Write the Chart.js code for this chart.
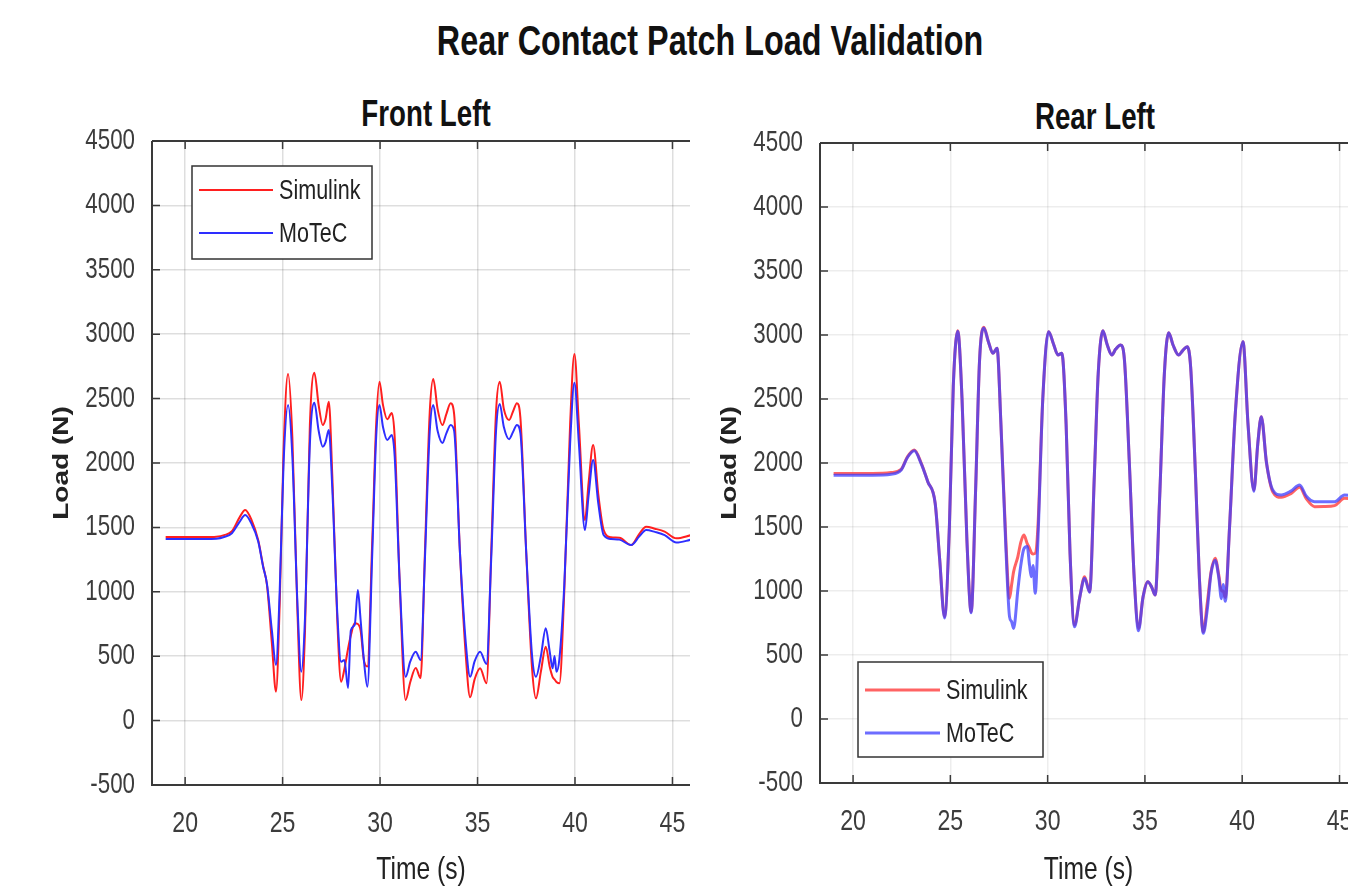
<!DOCTYPE html>
<html>
<head>
<meta charset="utf-8">
<script src="https://cdn.jsdelivr.net/npm/chart.js@4.4.1/dist/chart.umd.min.js"></script>
<style>
  html, body { margin:0; padding:0; width:1348px; height:890px; overflow:hidden; background:#fff; }
  body { position:relative; font-family:'Liberation Sans',Arial,sans-serif; }
  .t { position:absolute; transform:translate(-50%,-50%) scaleX(0.77); white-space:nowrap; font-weight:bold; color:#111; line-height:1; }
  #c1wrap { position:absolute; left:0; top:0; width:700px; height:890px; }
  #c2wrap { position:absolute; left:700px; top:0; width:700px; height:890px; }
</style>
</head>
<body>
<div class="t" style="left:710px; top:41px; font-size:42px;">Rear Contact Patch Load Validation</div>
<div class="t" style="left:426px; top:114px; font-size:36px;">Front Left</div>
<div class="t" style="left:1095px; top:117px; font-size:36px;">Rear Left</div>
<div id="c1wrap"><canvas id="c1" width="700" height="890"></canvas></div>
<div id="c2wrap"><canvas id="c2" width="700" height="890"></canvas></div>
<script>
// ---------------- data ----------------
const seriesNames = ['Simulink', 'MoTeC'];
const xTickValues = [20, 25, 30, 35, 40, 45];
const yTickValues = [-500, 0, 500, 1000, 1500, 2000, 2500, 3000, 3500, 4000, 4500];

const flTime = [19.0,20.0,21.0,21.6,22.0,22.4,22.8,23.08,23.4,23.75,24.0,24.2,24.45,24.66,24.85,25.05,25.28,25.5,25.75,25.96,26.15,26.4,26.63,26.85,27.06,27.2,27.37,27.55,27.8,28.0,28.17,28.36,28.5,28.7,28.86,29.0,29.17,29.35,29.6,29.8,29.97,30.15,30.37,30.6,30.75,31.0,31.31,31.55,31.83,32.08,32.3,32.55,32.73,32.95,33.2,33.4,33.62,33.8,34.1,34.4,34.62,34.85,35.13,35.46,35.7,35.95,36.14,36.35,36.62,36.82,37.02,37.2,37.5,37.8,38.0,38.25,38.5,38.7,38.85,38.95,39.05,39.2,39.45,39.75,39.97,40.2,40.51,40.7,40.93,41.2,41.47,41.85,42.28,42.88,43.3,43.65,44.1,44.6,45.2,45.96];
const flSimulink = [1425,1425,1425,1428,1440,1470,1580,1635,1560,1400,1200,1050,600,224,900,2100,2691,2200,900,160,700,2300,2700,2450,2295,2340,2476,1900,800,302,400,560,660,755,750,700,470,420,1400,2300,2631,2450,2339,2388,2200,1100,160,300,408,330,1300,2400,2652,2420,2295,2380,2464,2380,1300,500,181,320,406,290,1300,2400,2631,2420,2334,2400,2464,2350,1300,400,173,380,574,420,340,320,300,290,1000,2300,2846,2300,1557,1850,2140,1750,1480,1423,1420,1363,1450,1505,1490,1467,1415,1440];
const flMotec = [1410,1410,1410,1412,1425,1455,1545,1596,1530,1390,1195,1060,700,432,1000,2000,2450,2050,950,380,800,2150,2468,2250,2127,2160,2256,1800,850,457,470,253,700,744,1014,785,470,263,1300,2200,2450,2280,2179,2217,2050,1100,340,460,535,470,1250,2250,2450,2250,2155,2230,2295,2250,1300,600,340,460,535,440,1250,2250,2458,2280,2185,2240,2295,2230,1300,500,340,500,717,540,406,502,380,480,1050,2150,2624,2150,1480,1750,2023,1680,1441,1410,1405,1363,1430,1480,1465,1440,1382,1405];

const rlTime = [19.0,20.0,21.0,21.95,22.47,22.8,23.15,23.5,23.84,24.22,24.45,24.7,24.95,25.15,25.38,25.6,25.85,26.07,26.3,26.5,26.72,26.95,27.19,27.4,27.6,27.85,28.04,28.15,28.25,28.47,28.62,28.78,28.95,29.07,29.16,29.25,29.36,29.5,29.75,30.05,30.3,30.53,30.73,30.95,31.15,31.38,31.65,31.9,32.16,32.4,32.6,32.84,33.05,33.3,33.5,33.75,33.95,34.2,34.45,34.67,34.9,35.15,35.35,35.53,35.75,36.0,36.22,36.45,36.73,36.95,37.17,37.35,37.6,37.8,38.0,38.2,38.4,38.61,38.8,38.93,39.02,39.13,39.35,39.65,40.04,40.3,40.6,40.8,40.98,41.25,41.57,42.0,42.5,42.95,43.3,43.72,44.2,44.75,45.26,46.0];
const rlSimulink = [1918,1918,1918,1925,1950,2050,2102,2000,1854,1685,1250,799,1500,2600,3034,2500,1400,838,1800,2800,3060,2950,2857,2896,2300,1400,943,1050,1150,1269,1380,1437,1370,1334,1300,1290,1294,1500,2500,3026,2930,2844,2857,2300,1300,734,950,1112,995,1900,2700,3034,2930,2844,2890,2922,2800,2000,1100,708,950,1073,1030,969,1700,2700,3018,2920,2844,2880,2909,2750,1900,1100,682,900,1150,1256,1120,1000,1000,950,1500,2400,2948,2300,1789,2150,2362,2000,1775,1732,1760,1810,1720,1659,1660,1667,1724,1710];
const rlMotec = [1905,1905,1905,1912,1945,2045,2095,1995,1854,1685,1250,790,1500,2600,3030,2500,1400,830,1800,2800,3055,2950,2857,2896,2300,1350,800,760,708,1010,1200,1330,1347,1200,1112,1200,982,1400,2500,3026,2930,2844,2857,2300,1300,720,950,1100,990,1900,2700,3034,2930,2844,2890,2922,2800,2000,1100,690,950,1073,1030,969,1700,2700,3018,2920,2844,2880,2909,2750,1900,1100,670,850,1138,1240,1100,940,1050,920,1500,2400,2948,2300,1780,2150,2362,2000,1789,1750,1780,1828,1740,1698,1698,1698,1750,1740];

// ---------------- helpers ----------------
const FONT = "'Liberation Sans', Arial, sans-serif";
const SQUEEZE = 0.77;
const pts = (t, v) => t.map((x, i) => ({x: x, y: v[i]}));

// narrow every canvas text horizontally (device x) around its anchor point
const squeezePlugin = {
  id: 'squeeze',
  beforeInit(chart) {
    const ctx = chart.ctx;
    const orig = ctx.fillText;
    ctx.fillText = function (text, x, y, maxWidth) {
      const m = this.getTransform();
      const p = m.transformPoint(new DOMPoint(x, y));
      this.setTransform(new DOMMatrix().translate(p.x, p.y).scale(SQUEEZE, 1).translate(-p.x, -p.y).multiply(m));
      if (maxWidth === undefined) orig.call(this, text, x, y); else orig.call(this, text, x, y, maxWidth);
      this.setTransform(m);
    };
  }
};

const framePlugin = {
  id: 'frame',
  afterDatasetsDraw(chart, args, opts) {
    const {ctx, chartArea: a, scales} = chart;
    ctx.save();
    ctx.strokeStyle = opts.color;
    ctx.lineWidth = opts.width;
    ctx.beginPath();
    ctx.moveTo(a.left, a.top); ctx.lineTo(a.right, a.top);
    ctx.moveTo(a.left, a.top); ctx.lineTo(a.left, a.bottom);
    ctx.moveTo(a.left - 1, a.bottom); ctx.lineTo(a.right, a.bottom);
    ctx.stroke();
    ctx.lineWidth = 1.5;
    ctx.beginPath();
    xTickValues.forEach(v => {
      const px = scales.x.getPixelForValue(v);
      ctx.moveTo(px, a.bottom); ctx.lineTo(px, a.bottom - opts.tick);
      ctx.moveTo(px, a.top); ctx.lineTo(px, a.top + opts.tick);
    });
    yTickValues.forEach(v => {
      const py = scales.y.getPixelForValue(v);
      ctx.moveTo(a.left, py); ctx.lineTo(a.left + opts.tick, py);
    });
    ctx.stroke();
    ctx.restore();
  }
};

const legendPlugin = {
  id: 'boxLegend',
  afterDatasetsDraw(chart, args, o) {
    const ctx = chart.ctx;
    ctx.save();
    ctx.fillStyle = '#fff';
    ctx.fillRect(o.x, o.y, o.w, o.h);
    ctx.strokeStyle = '#333';
    ctx.lineWidth = 1.5;
    ctx.strokeRect(o.x, o.y, o.w, o.h);
    ctx.font = o.fontSize + 'px ' + FONT;
    ctx.textBaseline = 'middle';
    ctx.textAlign = 'left';
    ctx.fillStyle = '#222';
    chart.data.datasets.forEach((ds, i) => {
      const yy = o.y + o.rowTop + i * o.rowGap;
      ctx.strokeStyle = ds.borderColor;
      ctx.lineWidth = ds.borderWidth;
      ctx.beginPath();
      ctx.moveTo(o.x + o.lineStart, yy); ctx.lineTo(o.x + o.lineEnd, yy);
      ctx.stroke();
      ctx.fillText(ds.label, o.x + o.textX, yy + 1);
    });
    ctx.restore();
  }
};

function makeChart(id, time, sim, mot, cfg) {
  return new Chart(document.getElementById(id), {
    type: 'line',
    data: {
      datasets: [
        { label: seriesNames[0], data: pts(time, sim), borderColor: cfg.red, borderWidth: cfg.lw, pointRadius: 0, cubicInterpolationMode: 'monotone', fill: false, order: 1 },
        { label: seriesNames[1], data: pts(time, mot), borderColor: cfg.blue, borderWidth: cfg.lw, pointRadius: 0, cubicInterpolationMode: 'monotone', fill: false, order: 0 }
      ]
    },
    options: {
      responsive: false,
      animation: false,
      events: [],
      layout: { padding: { left: 0, right: cfg.padRight, top: cfg.padTop, bottom: 0 } },
      plugins: {
        legend: { display: false },
        tooltip: { enabled: false },
        frame: { color: '#3a3a3a', width: 2, tick: 8 },
        boxLegend: cfg.legend
      },
      scales: {
        x: {
          type: 'linear', min: 18.3, max: 45.9,
          afterFit: s => { s.height = cfg.xHeight; s.paddingLeft = 0; s.paddingRight = 0; },
          afterBuildTicks: s => { s.ticks = xTickValues.map(v => ({value: v})); },
          ticks: { font: { family: FONT, size: 30 }, color: '#3c3c3c', padding: 21, maxRotation: 0, autoSkip: false, callback: v => String(v) },
          grid: { color: cfg.grid, lineWidth: 1.5, drawTicks: false },
          border: { display: false },
          title: { display: true, text: 'Time (s)', font: { family: FONT, size: 32 }, color: '#222', padding: { top: 0, bottom: 1 } }
        },
        y: {
          min: -500, max: 4500,
          afterFit: s => { s.width = cfg.yWidth; },
          afterBuildTicks: s => { s.ticks = yTickValues.map(v => ({value: v})); },
          ticks: { font: { family: FONT, size: 29 }, color: '#3c3c3c', padding: 17, autoSkip: false, callback: v => String(v) },
          grid: { color: cfg.grid, lineWidth: 1.5, drawTicks: false },
          border: { display: false },
          title: { display: true, text: 'Load (N)', font: { family: FONT, size: 28, weight: 'bold' }, color: '#222', padding: { top: cfg.yTitlePad, bottom: 0 } }
        }
      }
    },
    plugins: [squeezePlugin, framePlugin, legendPlugin]
  });
}

makeChart('c1', flTime, flSimulink, flMotec, {
  red: '#ff1f1f', blue: '#2e2eff', lw: 2, grid: 'rgba(0,0,0,0.13)',
  padTop: 141, padRight: 10, xHeight: 105, yWidth: 152, yTitlePad: 45,
  legend: { x: 192, y: 166, w: 180, h: 93, rowTop: 24, rowGap: 43, lineStart: 7, lineEnd: 81, textX: 87, fontSize: 28 }
});
makeChart('c2', rlTime, rlSimulink, rlMotec, {
  red: 'rgba(255,60,60,0.8)', blue: 'rgba(60,60,255,0.75)', lw: 3, grid: 'rgba(0,0,0,0.07)',
  padTop: 143, padRight: 43, xHeight: 107, yWidth: 120, yTitlePad: 13,
  legend: { x: 158, y: 662, w: 185, h: 95, rowTop: 28, rowGap: 43, lineStart: 7, lineEnd: 82, textX: 88, fontSize: 28 }
});
</script>
</body>
</html>
